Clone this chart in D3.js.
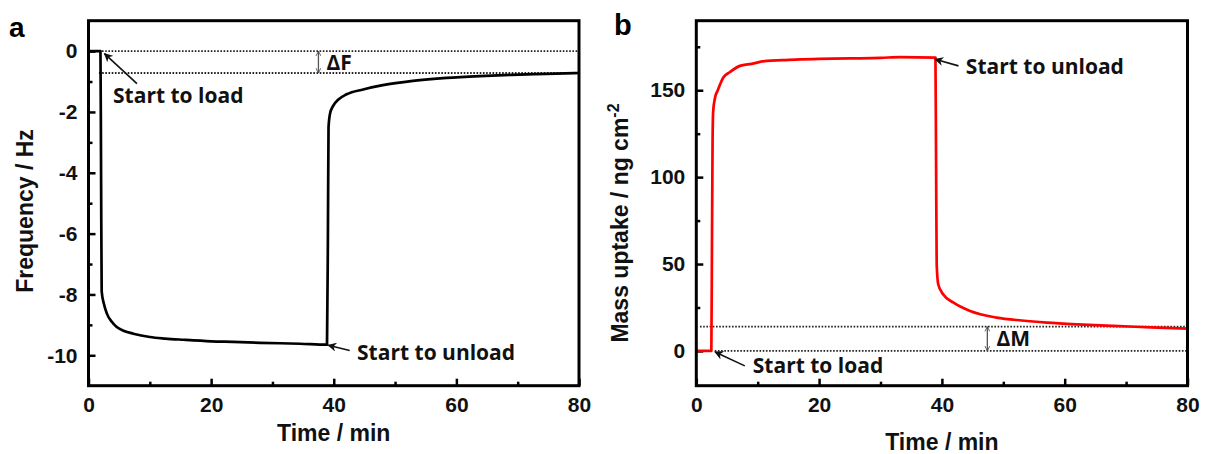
<!DOCTYPE html>
<html>
<head>
<meta charset="utf-8">
<script src="https://cdn.jsdelivr.net/npm/d3@7/dist/d3.min.js"></script>
<style>
  html, body { margin: 0; padding: 0; background: #fff; }
  svg { display: block; }
  .tick text { font-family: "Liberation Sans", Arial, sans-serif; font-weight: bold; font-size: 21px; fill: #111; }
  .tick line { stroke: #000; stroke-width: 2.5px; }
  .title { font-family: "Liberation Sans", Arial, sans-serif; font-weight: bold; font-size: 23px; fill: #111; }
  .note { font-family: "Open Sans", sans-serif; font-weight: bold; font-size: 21px; fill: #111; }
  .plabel { font-family: "Liberation Sans", Arial, sans-serif; font-weight: bold; fill: #000; }
</style>
</head>
<body>
<svg id="chart" width="1205" height="454"></svg>
<script>
// ---------- data ----------
const timeA = [0, 1.95, 2.05, 2.15, 2.5, 3.0, 3.8, 4.6, 5.8, 7.3, 10, 12.5, 15.5, 20, 23.6, 28, 34.5, 38.9,
               39.05, 39.15, 39.4, 39.9, 40.7, 42.1, 44.8, 48, 52.9, 58.4, 63.8, 69, 74.7, 80];
const freqA = [0, 0, -4, -7.9, -8.3, -8.63, -8.9, -9.07, -9.2, -9.29, -9.40, -9.45, -9.49, -9.54, -9.56, -9.59, -9.62, -9.65,
               -6, -2.5, -2.05, -1.8, -1.6, -1.42, -1.26, -1.12, -0.98, -0.88, -0.82, -0.78, -0.75, -0.72];

const timeB = [0, 2.45, 2.55, 2.65, 2.75, 3.05, 3.5, 4.4, 5.5, 7.1, 9, 11.5, 14, 16.9, 20, 25, 30, 33.2, 38.95,
               39.05, 39.15, 39.4, 40.2, 41.9, 44.6, 48.9, 53, 57.1, 62, 67.9, 74, 80];
const massB = [0, 0, 60, 120, 138, 145.7, 150, 157.3, 160.5, 164, 165.2, 166.9, 167.3, 167.8, 168, 168.3, 168.6, 169.1, 168.8,
               110, 50, 38.4, 32.6, 27.8, 23, 19.2, 17.5, 16.3, 15.3, 14.4, 13.6, 12.8];

const xTicks = [0, 20, 40, 60, 80];
const xMinor = [10, 30, 50, 70];
const yTicksA = [0, -2, -4, -6, -8, -10];
const yMinorA = [-1, -3, -5, -7, -9];
const yTicksB = [0, 50, 100, 150];
const yMinorB = [25, 75, 125, 175];

const deltaFLevels = [0, -0.72];
const deltaMLevels = [0, 14];

// ---------- drawing ----------
const svg = d3.select("#chart");
const defs = svg.append("defs");
defs.append("marker").attr("id", "arrowHead")
  .attr("viewBox", "0 0 10 10").attr("refX", 9).attr("refY", 5)
  .attr("markerWidth", 9).attr("markerHeight", 9).attr("markerUnits", "userSpaceOnUse")
  .attr("orient", "auto")
  .append("path").attr("d", "M0,0 L10,5 L0,10 L3,5 Z").attr("fill", "#111");
defs.append("marker").attr("id", "dblHead")
  .attr("viewBox", "0 0 10 10").attr("refX", 9).attr("refY", 5)
  .attr("markerWidth", 6).attr("markerHeight", 6).attr("markerUnits", "userSpaceOnUse")
  .attr("orient", "auto-start-reverse")
  .append("path").attr("d", "M1,1 L9,5 L1,9").attr("fill", "none").attr("stroke", "#555").attr("stroke-width", 1.5);

function panel(cfg) {
  const x = d3.scaleLinear().domain([0, 80]).range([cfg.left, cfg.right]);
  const y = d3.scaleLinear().domain(cfg.yDomain).range([cfg.bottom, cfg.top]);
  const g = svg.append("g");

  // dotted reference lines
  cfg.levels.forEach((lv, i) => {
    g.append("line")
      .attr("x1", x(cfg.levelStart[i])).attr("x2", x(80))
      .attr("y1", y(lv)).attr("y2", y(lv))
      .attr("stroke", "#222").attr("stroke-width", 1.8).attr("stroke-dasharray", "1.6 1.6");
  });

  // axes
  const xAxis = g.append("g").attr("transform", `translate(0,${cfg.bottom})`)
    .call(d3.axisBottom(x).tickValues(xTicks).tickSize(-7).tickSizeOuter(0).tickPadding(11));
  const xAxisMinor = g.append("g").attr("transform", `translate(0,${cfg.bottom})`)
    .call(d3.axisBottom(x).tickValues(xMinor).tickSize(-4).tickSizeOuter(0).tickFormat(""));
  const yAxis = g.append("g").attr("transform", `translate(${cfg.left},0)`)
    .call(d3.axisLeft(y).tickValues(cfg.yTicks).tickSize(-7).tickSizeOuter(0).tickPadding(11)
      .tickFormat(d3.format("d")));
  const yAxisMinor = g.append("g").attr("transform", `translate(${cfg.left},0)`)
    .call(d3.axisLeft(y).tickValues(cfg.yMinor).tickSize(-4).tickSizeOuter(0).tickFormat(""));
  [xAxis, xAxisMinor, yAxis, yAxisMinor].forEach(a => { a.select(".domain").remove(); a.attr("font-family", null).attr("font-size", null); });
  yAxis.selectAll(".tick text").text(d => d < 0 ? "-" + Math.abs(d) : d);

  // data line
  const line = d3.line().x(d => x(d[0])).y(d => y(d[1])).curve(d3.curveMonotoneX);
  g.append("path").datum(cfg.t.map((t, i) => [t, cfg.v[i]]))
    .attr("d", line).attr("fill", "none").attr("stroke", cfg.color)
    .attr("stroke-width", 2.7).attr("stroke-linejoin", "round");

  // frame
  g.append("rect").attr("x", cfg.left).attr("y", cfg.top)
    .attr("width", cfg.right - cfg.left).attr("height", cfg.bottom - cfg.top)
    .attr("fill", "none").attr("stroke", "#000").attr("stroke-width", 3);

  // delta arrow
  g.append("line").attr("x1", x(cfg.deltaX)).attr("x2", x(cfg.deltaX))
    .attr("y1", y(cfg.levels[0])).attr("y2", y(cfg.levels[1]))
    .attr("stroke", "#555").attr("stroke-width", 1.3)
    .attr("marker-start", "url(#dblHead)").attr("marker-end", "url(#dblHead)");
  g.append("text").attr("class", "note").attr("x", x(cfg.deltaTextX))
    .attr("y", (y(cfg.levels[0]) + y(cfg.levels[1])) / 2).attr("dy", "0.36em").text(cfg.deltaText);

  // notes with arrows
  cfg.notes.forEach(n => {
    g.append("line").attr("x1", x(n.tail[0])).attr("y1", y(n.tail[1]))
      .attr("x2", x(n.tip[0])).attr("y2", y(n.tip[1]))
      .attr("stroke", "#111").attr("stroke-width", 1.6).attr("marker-end", "url(#arrowHead)");
    g.append("text").attr("class", "note").attr("x", x(n.at[0])).attr("y", y(n.at[1])).text(n.text);
  });

  // titles
  g.append("text").attr("class", "title").attr("text-anchor", "middle")
    .attr("x", (cfg.left + cfg.right) / 2).attr("y", cfg.xTitleY).text("Time / min");
  const yt = g.append("text").attr("class", "title").attr("text-anchor", "middle")
    .attr("transform", `translate(${cfg.yTitleX},${cfg.yTitleY}) rotate(-90)`);
  yt.append("tspan").text(cfg.yTitle);
  if (cfg.yTitleSup) {
    yt.append("tspan").attr("dy", "-0.55em").attr("font-size", "16px").text(cfg.yTitleSup);
  }
  svg.append("text").attr("class", "plabel").attr("x", cfg.labelX).attr("y", cfg.labelY)
    .attr("font-size", cfg.labelSize).text(cfg.label);
}

panel({
  left: 88.5, right: 579, top: 20.7, bottom: 385.7, yDomain: [-11, 1],
  yTicks: yTicksA, yMinor: yMinorA, t: timeA, v: freqA, color: "#000",
  levels: deltaFLevels, levelStart: [2.2, 1.7], deltaX: 37.5, deltaTextX: 38.8, deltaText: "\u0394F",
  notes: [
    { text: "Start to load", at: [4.0, -1.70], tail: [7.9, -1.07], tip: [2.6, -0.08] },
    { text: "Start to unload", at: [43.8, -10.16], tail: [42.6, -9.84], tip: [39.1, -9.67] }
  ],
  xTitleY: 440.7, yTitleX: 33, yTitleY: 211, yTitle: "Frequency / Hz",
  label: "a", labelX: 9, labelY: 36.7, labelSize: "28px"
});

panel({
  left: 696.3, right: 1187.5, top: 20.7, bottom: 385.7, yDomain: [-20, 190],
  yTicks: yTicksB, yMinor: yMinorB, t: timeB, v: massB, color: "#ff0000",
  levels: deltaMLevels, levelStart: [3.0, 0.6], deltaX: 47.4, deltaTextX: 48.9, deltaText: "\u0394M",
  notes: [
    { text: "Start to load", at: [9.2, -12.8], tail: [7.9, -8.6], tip: [3.05, -0.6] },
    { text: "Start to unload", at: [43.9, 159.2], tail: [42.7, 164], tip: [38.9, 167.8] }
  ],
  xTitleY: 450, yTitleX: 628, yTitleY: 223, yTitle: "Mass uptake / ng cm", yTitleSup: "-2",
  label: "b", labelX: 614, labelY: 35, labelSize: "29px"
});
</script>
</body>
</html>
